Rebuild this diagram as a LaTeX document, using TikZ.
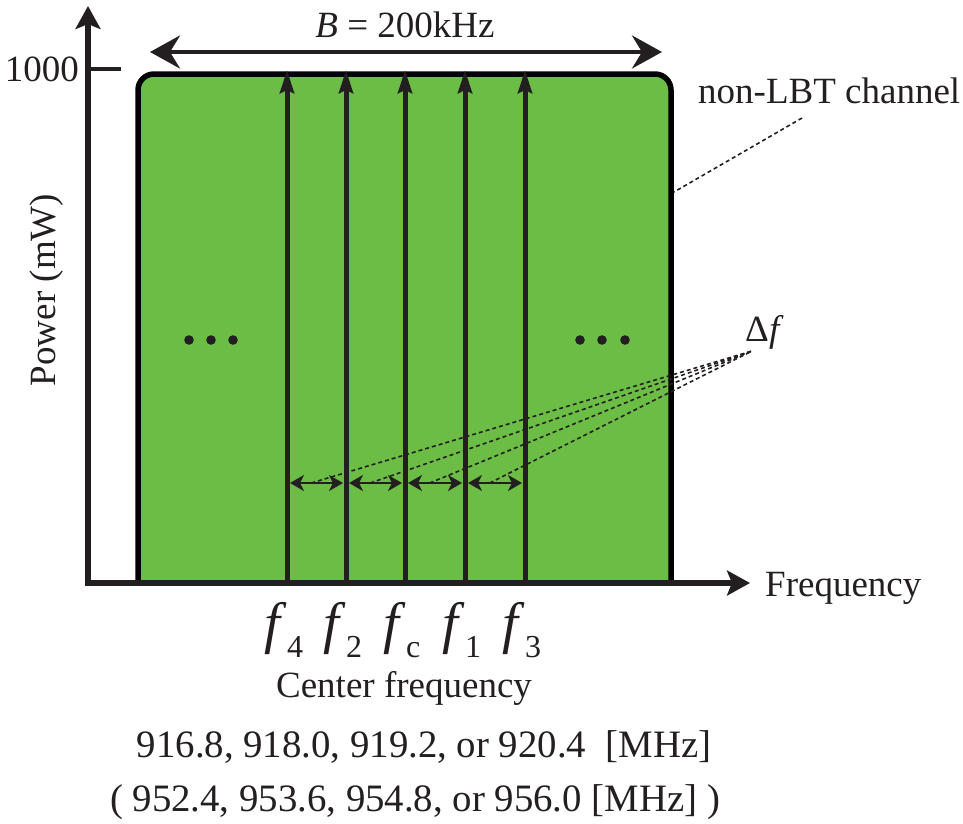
\documentclass[tikz,border=0pt]{standalone}
\usepackage{fontspec}
\setmainfont{Liberation Serif}
\usetikzlibrary{arrows.meta, positioning, calc}

\definecolor{bandgreen}{RGB}{108,189,69}
\definecolor{inkblack}{RGB}{35,31,32}
\newcommand{\fsym}[1]{\textit{f}\raisebox{-0.28em}{\fontsize{32}{32}\selectfont #1}}

\begin{document}
\begin{tikzpicture}[x=1pt, y=-1pt,
    every node/.style={inner sep=0pt, text=inkblack},
    lbl/.style={font=\fontsize{37}{40}\selectfont},
    vlbl/.style={font=\fontsize{38.8}{42}\selectfont},
    flbl/.style={font=\fontsize{57}{60}\selectfont},
    axis/.style={line width=5.5pt, draw=inkblack, -{Stealth[length=23pt, width=25pt, inset=5pt]}},
    carrier/.style={line width=5pt, draw=inkblack, -{Stealth[length=23pt, width=14pt, inset=3pt]}},
    span/.style={line width=4pt, draw=inkblack,
      {Stealth[length=30pt, width=33pt, inset=10pt]}-{Stealth[length=30pt, width=33pt, inset=10pt]}},
    spacing/.style={line width=2pt, draw=inkblack,
      {Stealth[length=14pt, width=16pt, inset=4pt]}-{Stealth[length=14pt, width=16pt, inset=4pt]}},
    leader/.style={line width=1.6pt, draw=inkblack, dash pattern=on 4pt off 3pt}]
  \useasboundingbox (0,0) rectangle (963,823);

  % channel band
  \filldraw[fill=bandgreen, draw=black, line width=5.5pt, rounded corners=16pt]
    (138,583) -- (138,74) -- (671,74) -- (671,583);

  % axes
  \coordinate (origin) at (88,583);
  \coordinate (ytip) at (88,6);
  \coordinate (xtip) at (750,583);
  \draw[axis] (88,586) -- (ytip);
  \draw[axis] (85,583) -- (xtip);
  \coordinate (tickl) at (88,69);
  \coordinate (tickr) at (121,69);
  \draw[line width=4pt, draw=inkblack] (tickl) -- (tickr);
  \node[lbl, anchor=base east] (ymax) at (79,81) {1000};
  \node[lbl, rotate=90] (ylabel) at (47,290) {Power (mW)};
  \node[lbl, anchor=base west] (xlabel) at (765,596) {Frequency};

  % bandwidth
  \coordinate (bl) at (150,52);
  \coordinate (br) at (662,52);
  \draw[span] (bl) -- (br);
  \node[lbl, anchor=base] (bw) at (405,37) {\textit{B} = 200kHz};

  % carriers
  \foreach \name/\x in {4/287, 2/346, c/405, 1/465, 3/525} {
    \coordinate (cb\name) at (\x,583);
    \coordinate (ct\name) at (\x,70);
    \coordinate (s\name) at (\x,483);
    \draw[carrier] (cb\name) -- (ct\name);
    \node[flbl, anchor=base] (lab\name) at (\x-3,642) {\fsym{\name}};
  }

  % other channels
  \foreach \x in {189, 211, 233, 580, 602, 625}
    \fill[inkblack] (\x,340) circle (4.8pt);

  % carrier spacing
  \node[lbl, anchor=base west] (deltaf) at (745,341) {Δ\textit{f}};
  \coordinate (dfend) at (752,351);
  \foreach \a/\b in {4/2, 2/c, c/1, 1/3} {
    \draw[spacing] ([xshift=3pt]s\a) -- coordinate[pos=0.4] (m\a) ([xshift=-3pt]s\b);
    \draw[leader] (m\a) -- (dfend);
  }

  % non-LBT channel
  \node[lbl, anchor=base west] (nonlbt) at (698,103) {non-LBT channel};
  \coordinate (nlbtleg) at (802,118);
  \coordinate (nlbtedge) at (674,192);
  \draw[leader] (nlbtleg) -- (nlbtedge);

  % center frequencies
  \node[lbl, anchor=base] (cfreq) at (404,697) {Center frequency};
  \node[vlbl, anchor=base] (cfreqa) at (424,757) {916.8, 918.0, 919.2, or 920.4~~[MHz]};
  \node[vlbl, anchor=base] (cfreqb) at (415,811) {( 952.4, 953.6, 954.8, or 956.0 [MHz] )};
\end{tikzpicture}
\end{document}
